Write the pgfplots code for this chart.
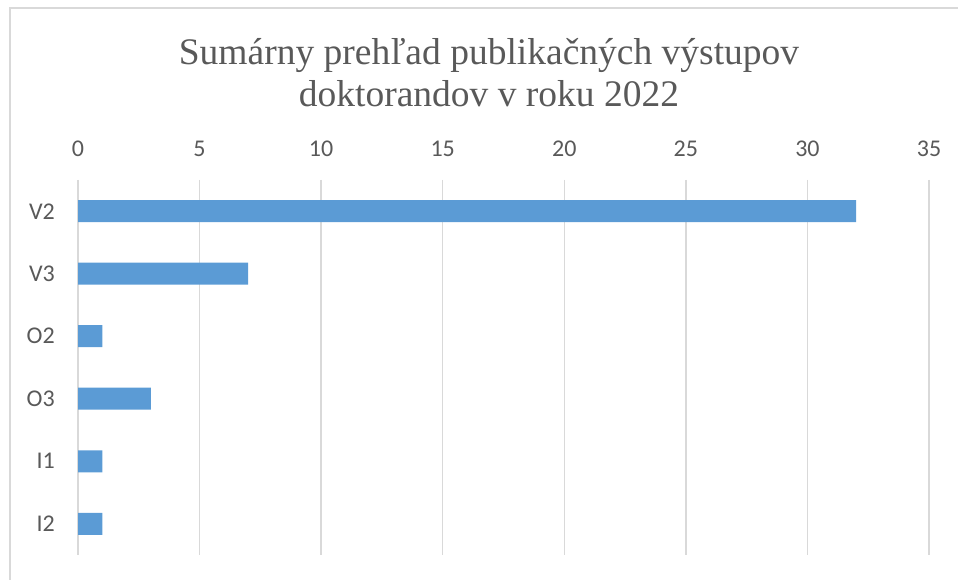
\documentclass[border=0pt]{standalone}
\usepackage{pgfplots}
\pgfplotsset{compat=1.18}
\usepackage{fontspec}
\setmainfont{Liberation Serif}
\newfontfamily\calibri{Carlito}
\definecolor{barblue}{HTML}{5B9BD5}
\definecolor{gridgray}{HTML}{D9D9D9}
\definecolor{txtgray}{HTML}{595959}
\begin{document}
\begin{tikzpicture}[x=1pt,y=1pt]
\useasboundingbox (0,0) rectangle (958,580);
\draw[gridgray, line width=1.5pt] (10,0) -- (10,572) -- (958,572);
\node[anchor=base, text=txtgray, font=\fontsize{37.5}{43}\selectfont] at (489,515) {Sumárny prehľad publikačných výstupov};
\node[anchor=base, text=txtgray, font=\fontsize{37.5}{43}\selectfont] at (489,473) {doktorandov v roku 2022};
\begin{axis}[
  at={(78pt,25pt)}, anchor=south west,
  scale only axis, width=851pt, height=375pt,
  xmin=0, xmax=35, ymin=-0.5, ymax=5.5,
  y dir=reverse,
  xbar, bar width=22pt,
  axis line style={draw=none},
  xtick={0,5,...,35},
  ytick={0,1,2,3,4,5},
  yticklabels={V2,V3,O2,O3,I1,I2},
  xticklabel pos=upper,
  major tick length=0pt,
  xmajorgrids,
  grid style={gridgray, line width=1.5pt},
  /pgf/number format/assume math mode=true,
  ticklabel style={font=\calibri\fontsize{24}{28}\selectfont, text=txtgray},
  xticklabel style={anchor=base, inner sep=0pt, yshift=23pt},
  yticklabel style={anchor=east, inner sep=0pt, xshift=-23pt},
  clip=false,
]
\addplot[fill=barblue, draw=none] coordinates {(32,0) (7,1) (1,2) (3,3) (1,4) (1,5)};
\end{axis}
\end{tikzpicture}
\end{document}
